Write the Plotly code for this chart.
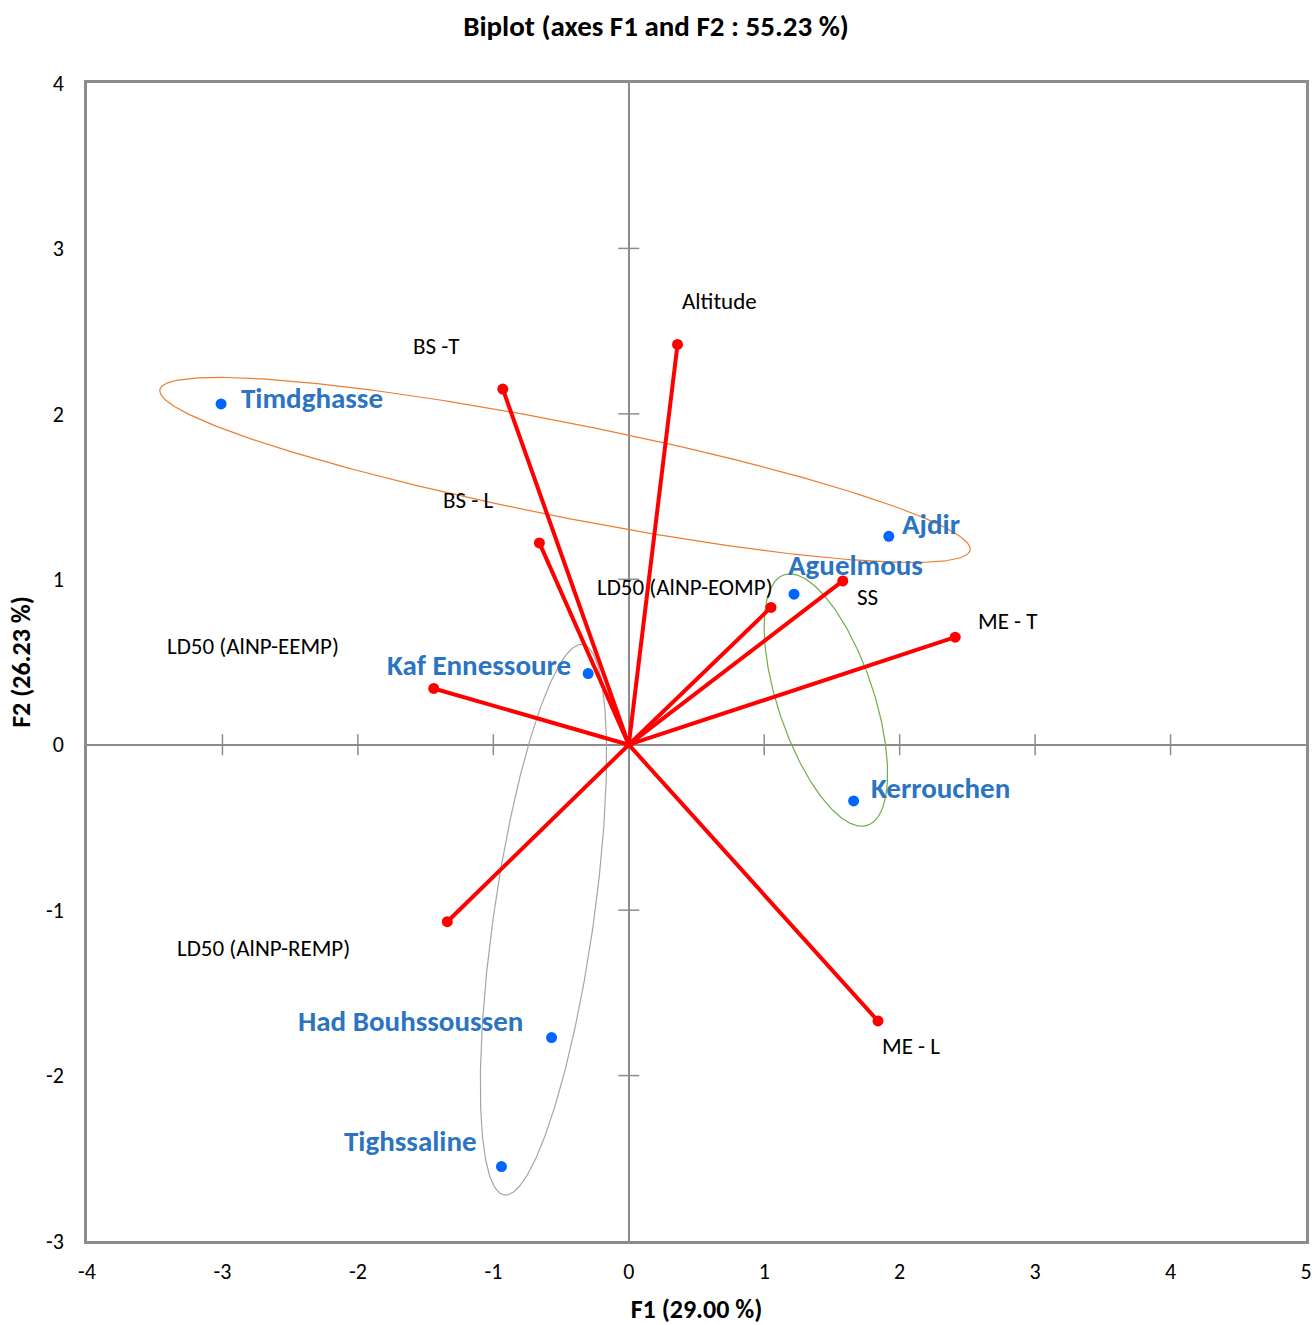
import numpy as np
import plotly.graph_objects as go

# ---------------- data ----------------
obs_names = ["Timdghasse", "Ajdir", "Aguelmous", "Kaf Ennessoure",
             "Kerrouchen", "Had Bouhssoussen", "Tighssaline"]
obs_f1 = [-3.01, 1.92, 1.22, -0.30, 1.66, -0.57, -0.94]
obs_f2 = [2.06, 1.26, 0.91, 0.43, -0.34, -1.77, -2.55]

var_names = ["Altitude", "BS -T", "BS - L", "LD50 (AlNP-EOMP)", "SS", "ME - T",
             "LD50 (AlNP-EEMP)", "LD50 (AlNP-REMP)", "ME - L"]
var_f1 = [0.36, -0.93, -0.66, 1.05, 1.58, 2.41, -1.44, -1.34, 1.84]
var_f2 = [2.42, 2.15, 1.22, 0.83, 0.99, 0.65, 0.34, -1.07, -1.67]

x_ticks = [-4, -3, -2, -1, 0, 1, 2, 3, 4, 5]
x_ticklabels = ["-4", "-3", "-2", "-1", "0", "1", "2", "3", "4", "5"]
y_ticks = [-3, -2, -1, 0, 1, 2, 3, 4]
y_ticklabels = ["-3", "-2", "-1", "0", "1", "2", "3", "4"]

title_text = "Biplot (axes F1 and F2 : 55.23 %)"
x_title = "F1 (29.00 %)"
y_title = "F2 (26.23 %)"

# ---------------- styles / layout ----------------
FONT = "Carlito, Calibri, Lato, sans-serif"
W, H = 1312, 1325
M = dict(l=87, r=6, t=83, b=84)
XR, YR = [-4, 5], [-3, 4]
SX = (W - M["l"] - M["r"]) / (XR[1] - XR[0])   # px per unit
SY = (H - M["t"] - M["b"]) / (YR[1] - YR[0])

# label placement (anchor, xshift px, yshift px)
obs_lab = {
    "Timdghasse": ("left", 18, 6),
    "Ajdir": ("left", 11, 12),
    "Aguelmous": ("left", -8, 29),
    "Kaf Ennessoure": ("right", -15, 9),
    "Kerrouchen": ("left", 15, 13),
    "Had Bouhssoussen": ("right", -27, 17),
    "Tighssaline": ("right", -22, 26),
}
var_lab = {
    "Altitude": ("left", 2, 43),
    "BS -T": ("right", -41, 43),
    "BS - L": ("right", -43, 43),
    "LD50 (AlNP-EOMP)": ("right", 4, 20),
    "SS": ("left", 12, -16),
    "ME - T": ("left", 21, 16),
    "LD50 (AlNP-EEMP)": ("right", -93, 42),
    "LD50 (AlNP-REMP)": ("right", -95, -26),
    "ME - L": ("left", 2, -25),
}

# ellipses: center (data), semi-axes (px), angle (deg, y-up), colour
ellipses = [
    (-0.471, 1.661, 413, 47, -11.2, "#ED7D31"),
    (1.455, 0.270, 132, 48, 108.4, "#70AD47"),
    (-0.630, -1.058, 278, 50, 81.9, "#A5A5A5"),
]

fig = go.Figure()

t = np.linspace(0, 2 * np.pi, 361)
for cx, cy, a, b, ang, col in ellipses:
    th = np.deg2rad(ang)
    px = a * np.cos(t) * np.cos(th) - b * np.sin(t) * np.sin(th)
    py = a * np.cos(t) * np.sin(th) + b * np.sin(t) * np.cos(th)
    fig.add_trace(go.Scatter(x=cx + px / SX, y=cy + py / SY, mode="lines",
                             line=dict(color=col, width=1.2), hoverinfo="skip",
                             showlegend=False))

# cross ticks on the zero axes
xt = [v for v in x_ticks if v not in (0, XR[0], XR[1])]
yt = [v for v in y_ticks if v not in (0, YR[0], YR[1])]
fig.add_trace(go.Scatter(x=xt, y=[0] * len(xt), mode="markers",
                         marker=dict(symbol="line-ns", size=15,
                                     line=dict(color="#8c8c8c", width=1.5)),
                         hoverinfo="skip", showlegend=False))
fig.add_trace(go.Scatter(x=[0] * len(yt), y=yt, mode="markers",
                         marker=dict(symbol="line-ew", size=15,
                                     line=dict(color="#8c8c8c", width=1.5)),
                         hoverinfo="skip", showlegend=False))

# variable vectors
lx, ly = [], []
for vx, vy in zip(var_f1, var_f2):
    lx += [0, vx, None]
    ly += [0, vy, None]
fig.add_trace(go.Scatter(x=lx, y=ly, mode="lines",
                         line=dict(color="#FF0000", width=4),
                         hoverinfo="skip", showlegend=False))
fig.add_trace(go.Scatter(x=var_f1, y=var_f2, mode="markers", text=var_names,
                         marker=dict(color="#FF0000", size=11),
                         showlegend=False))

# observations
fig.add_trace(go.Scatter(x=obs_f1, y=obs_f2, mode="markers", text=obs_names,
                         marker=dict(color="#0066FF", size=11),
                         showlegend=False))

for n, x, y in zip(obs_names, obs_f1, obs_f2):
    anc, xs, ys = obs_lab[n]
    fig.add_annotation(x=x, y=y, text=n, showarrow=False, xanchor=anc,
                       yanchor="middle", xshift=xs, yshift=ys,
                       font=dict(family=FONT, size=29, color="#2A74C2",
                                 weight="bold"))
for n, x, y in zip(var_names, var_f1, var_f2):
    anc, xs, ys = var_lab[n]
    fig.add_annotation(x=x, y=y, text=n, showarrow=False, xanchor=anc,
                       yanchor="middle", xshift=xs, yshift=ys,
                       font=dict(family=FONT, size=23, color="#000000"))

axis_common = dict(showgrid=False, zeroline=True, zerolinecolor="#8c8c8c",
                   zerolinewidth=2, showline=True, mirror=True,
                   linecolor="#8c8c8c", linewidth=2.5, ticks="",
                   automargin=False,
                   tickfont=dict(family=FONT, size=22, color="#000000"))

fig.update_layout(
    width=W, height=H, margin=M, plot_bgcolor="white", paper_bgcolor="white",
    title=dict(text=title_text, x=0.5, xanchor="center", y=1 - 26 / H,
               yanchor="middle", automargin=False,
               font=dict(family=FONT, size=29, color="#000000", weight="bold")),
    xaxis=dict(range=XR, tickvals=x_ticks, ticktext=x_ticklabels,
               ticklabelstandoff=9, **axis_common,
               title=dict(text=x_title, standoff=17,
                          font=dict(family=FONT, size=26, color="#000000",
                                    weight="bold"))),
    yaxis=dict(range=YR, tickvals=y_ticks, ticktext=y_ticklabels,
               ticklabelstandoff=16, **axis_common,
               title=dict(text=y_title, standoff=8,
                          font=dict(family=FONT, size=26, color="#000000",
                                    weight="bold"))),
    showlegend=False,
)

fig.write_html("out.html", config={"displayModeBar": False},
               post_script="document.body.style.margin='0';"
                           "document.body.style.overflow='hidden';")
